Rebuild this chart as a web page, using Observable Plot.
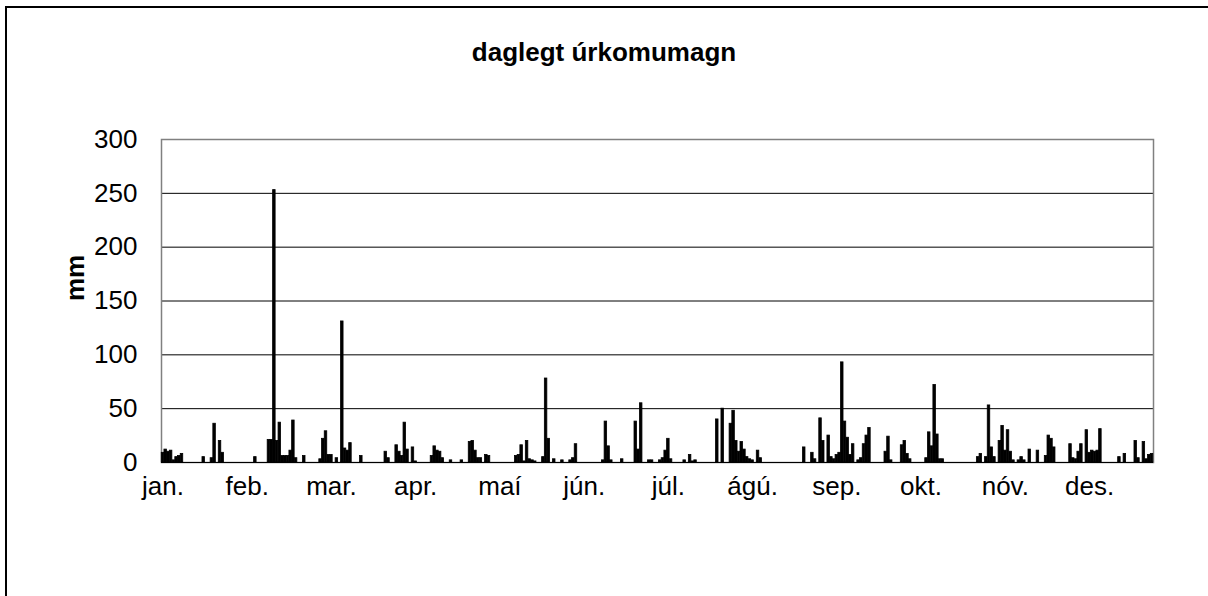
<!DOCTYPE html>
<html>
<head>
<meta charset="utf-8">
<script src="https://cdn.jsdelivr.net/npm/d3@7"></script>
<script src="https://cdn.jsdelivr.net/npm/@observablehq/plot@0.6"></script>
<style>
  html, body { margin: 0; padding: 0; background: #fff; overflow: hidden; width: 1208px; height: 596px; }
  #wrap { position: relative; width: 1208px; height: 596px; overflow: hidden; font-family: "Liberation Sans", Arial, sans-serif; }
  #bl { position: absolute; left: 5px; top: 6px; width: 2px; height: 600px; background: #000; }
  #bt { position: absolute; left: 5px; top: 6px; width: 1210px; height: 2px; background: #000; }
  #title { position: absolute; left: 0; top: 37px; width: 1208px; text-align: center; font-weight: bold; font-size: 26px; line-height: 30px; color: #000; }
  #chart { position: absolute; left: 0; top: 0; }
</style>
</head>
<body>
<div id="wrap">
  <div id="bl"></div>
  <div id="bt"></div>
  <div id="title"></div>
  <div id="chart"></div>
</div>
<script>
const titleText = "daglegt úrkomumagn";
const yLabel = "mm";
const monthLabels = ["jan.", "feb.", "mar.", "apr.", "maí", "jún.", "júl.", "ágú.", "sep.", "okt.", "nóv.", "des."];
const monthTickDays = [0, 31, 62, 93, 124, 155, 186, 217, 248, 279, 310, 341];
const yTicks = [0, 50, 100, 150, 200, 250, 300];
const allDays = d3.range(365);

// day index (0 = 1 Jan) of each day with precipitation, and amount in mm
const rainDays = [0,1,2,3,4,5,6,7,15,18,19,21,22,34,39,40,41,42,43,44,45,46,47,48,49,52,58,59,60,61,62,64,66,67,68,69,73,82,83,86,87,88,89,90,92,93,99,100,101,102,103,106,110,113,114,115,116,117,119,120,130,131,132,133,134,135,136,137,140,141,142,144,147,150,151,152,162,163,164,165,169,174,175,176,179,180,183,184,185,186,187,192,194,195,196,204,206,209,210,211,212,213,214,215,216,217,219,220,236,239,240,242,243,245,246,247,248,249,250,251,252,253,254,256,257,258,259,260,266,267,268,272,273,274,275,281,282,283,284,285,286,287,300,301,303,304,305,306,308,309,310,311,312,313,315,316,317,319,322,325,326,327,328,334,335,336,337,338,340,341,342,343,344,345,352,354,358,359,361,362,363,364];
const rainMm = [9,12,10,11,2,5,6,8,5,4,36,20,9,5,21,21,253,20,37,6,6,6,11,39,4,6,3,22,29,7,7,4,131,13,11,18,6,10,4,16,10,6,37,12,14,1,6,15,11,10,4,2,2,19,20,11,4,4,7,6,6,7,16,1,20,3,2,1,5,78,22,3,2,2,4,17,2,38,15,2,3,38,12,55,2,2,2,4,11,22,3,2,7,1,2,40,50,36,48,20,10,19,12,5,3,2,11,4,14,9,3,41,20,25,5,3,7,9,93,38,23,7,17,2,4,17,25,32,10,24,2,16,20,8,3,4,28,15,72,26,3,3,5,8,5,53,14,5,20,34,11,30,10,2,2,5,2,12,11,6,25,22,14,17,4,3,10,17,30,9,11,10,11,31,5,8,20,4,19,3,7,8];

const rows = rainDays.map((d, i) => ({day: d, mm: rainMm[i]}));

document.getElementById("title").textContent = titleText;

const chart = Plot.plot({
  width: 1208,
  height: 596,
  marginLeft: 161,
  marginRight: 55,
  marginTop: 139,
  marginBottom: 134,
  style: {fontFamily: "'Liberation Sans', Arial, sans-serif", fontSize: "26px", color: "#000", background: "transparent"},
  x: {type: "band", domain: allDays, padding: 0.08, align: 0.5},
  y: {domain: [0, 300]},
  marks: [
    Plot.gridY(yTicks, {stroke: "#000", strokeOpacity: 1, strokeWidth: 1}),
    Plot.frame({stroke: "#808080", strokeWidth: 1.5}),
    Plot.barY(rows, {x: "day", y: "mm", fill: "#000", stroke: "#000", strokeWidth: 0.8}),
    Plot.ruleY([0], {stroke: "#000", strokeWidth: 1.2}),
    Plot.axisY(yTicks, {tickSize: 0, tickPadding: 24, fontSize: 26, label: null}),
    Plot.axisX(monthTickDays, {tickSize: 0, tickPadding: 14, fontSize: 26, label: null,
      tickFormat: d => monthLabels[monthTickDays.indexOf(d)]}),
    Plot.text([yLabel], {frameAnchor: "left", dx: -86, rotate: -90, fontWeight: "bold", fontSize: 26})
  ]
});
document.getElementById("chart").appendChild(chart);
</script>
</body>
</html>
